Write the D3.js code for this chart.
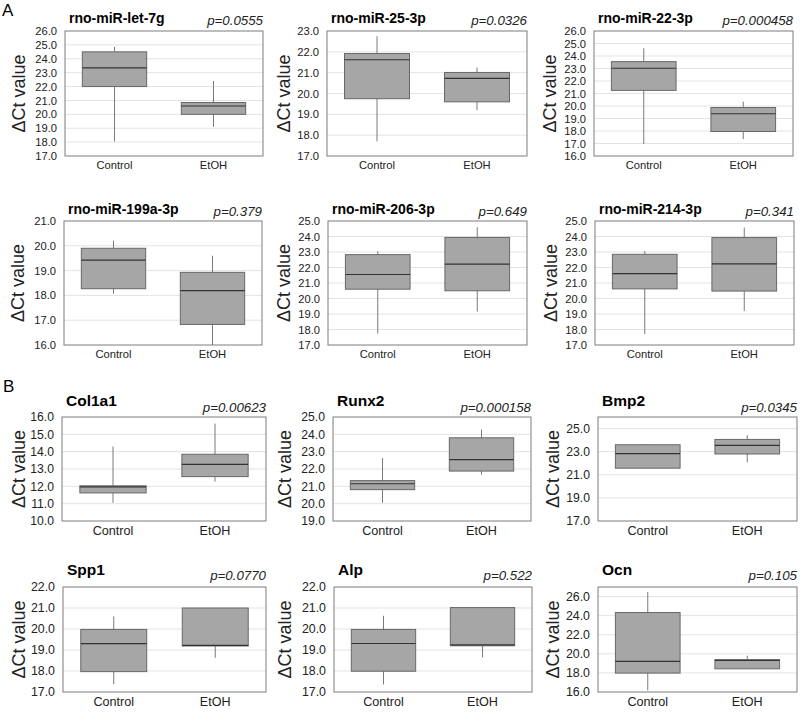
<!DOCTYPE html>
<html>
<head>
<meta charset="utf-8">
<script src="https://cdn.jsdelivr.net/npm/d3@7"></script>
<style>
  body { margin: 0; background: #fff; }
  svg { display: block; font-family: "Liberation Sans", Arial, Helvetica, sans-serif; }
</style>
</head>
<body>
<svg id="chart" width="800" height="714"></svg>
<script>
// panel names and p-values, left to right, top to bottom
const panelTitles = ["rno-miR-let-7g", "rno-miR-25-3p", "rno-miR-22-3p",
                     "rno-miR-199a-3p", "rno-miR-206-3p", "rno-miR-214-3p",
                     "Col1a1", "Runx2", "Bmp2",
                     "Spp1", "Alp", "Ocn"]
const pValues = ["p=0.0555", "p=0.0326", "p=0.000458",
                 "p=0.379", "p=0.649", "p=0.341",
                 "p=0.00623", "p=0.000158", "p=0.0345",
                 "p=0.0770", "p=0.522", "p=0.105"]
const groups = ["Control", "EtOH"]

// y axis range and tick step per panel
const yMin = [17, 17, 16, 16, 17, 17, 10, 19, 17, 17, 17, 16]
const yMax = [26, 23, 26, 21, 25, 25, 16, 25, 26, 22, 22, 27]
const yStep = [1, 1, 1, 1, 1, 1, 1, 1, 2, 1, 1, 2]

// box stats: [min, q1, median, q3, max]
const controlStats = [
    [18.05, 22.0, 23.35, 24.5, 24.85],
    [17.7, 19.75, 21.62, 21.92, 22.75],
    [16.95, 21.25, 23.02, 23.55, 24.62],
    [18.07, 18.27, 19.42, 19.9, 20.2],
    [17.73, 20.6, 21.55, 22.83, 23.05],
    [17.71, 20.62, 21.6, 22.85, 23.05],
    [11.05, 11.62, 11.97, 12.03, 14.3],
    [20.05, 20.81, 21.15, 21.33, 22.63],
    [21.57, 21.57, 22.83, 23.6, 23.63],
    [17.37, 17.97, 19.3, 19.98, 20.6],
    [17.36, 17.99, 19.31, 19.98, 20.63],
    [16.17, 17.98, 19.2, 24.33, 26.49]
]
const etohStats = [
    [19.1, 20.0, 20.6, 20.85, 22.4],
    [19.2, 19.6, 20.73, 21.01, 21.25],
    [17.35, 17.96, 19.38, 19.88, 20.35],
    [16.0, 16.83, 18.19, 18.93, 19.6],
    [19.16, 20.5, 22.22, 23.94, 24.6],
    [19.2, 20.48, 22.24, 23.93, 24.58],
    [12.27, 12.56, 13.27, 13.85, 15.62],
    [21.67, 21.88, 22.54, 23.8, 24.27],
    [22.08, 22.8, 23.55, 24.06, 24.43],
    [18.63, 19.19, 19.22, 21.0, 21.0],
    [18.65, 19.2, 19.24, 21.02, 21.02],
    [18.43, 18.43, 19.3, 19.4, 19.8]
]

// layout per row / column of the grid
const rowTop = [31, 221, 417, 587]
const rowBottom = [156, 345, 521, 692]
const titleBase = [23, 214, 406, 575]
const pBase = [25, 216, 412, 580]
const tickFont = [11.2, 11.2, 12.2, 12.4]
const xFont = [11.2, 11.2, 12.6, 12.6]
const titleFont = [14, 14, 15.5, 15.5]
const colLeft = [[65, 327, 594], [64, 328, 595], [62, 333, 598], [63, 334, 598]]
const colRight = [[263, 527, 793], [262, 527, 794], [266, 531, 797], [266, 532, 797]]
const ylabelX = [[25, 290, 556], [24, 290, 557], [25, 291, 559], [25, 291, 559]]

const svg = d3.select("#chart")

// panel letters
svg.append("text").attr("x", 2).attr("y", 16).attr("font-size", 17).text("A")
svg.append("text").attr("x", 3).attr("y", 392).attr("font-size", 17).text("B")

panelTitles.forEach(function (title, i) {
    const r = Math.floor(i / 3)
    const c = i % 3
    const left = colLeft[r][c]
    const w = colRight[r][c] - left
    const top = rowTop[r]
    const h = rowBottom[r] - top

    const g = svg.append("g").attr("transform", `translate(${left},${top})`)

    const y = d3.scaleLinear().domain([yMin[i], yMax[i]]).range([h, 0])
    const x = d3.scaleBand().domain(groups).range([0, w])
        .paddingInner(0.35).paddingOuter(0.175)

    const ticks = d3.range(yMin[i], yMax[i] + 0.001, yStep[i])

    // gridlines
    g.selectAll(".grid").data(ticks.filter(t => t > yMin[i] && t < yMax[i]))
        .join("line")
        .attr("x1", 0).attr("x2", w)
        .attr("y1", d => y(d)).attr("y2", d => y(d))
        .attr("stroke", "#e3e3e3").attr("stroke-width", 1)

    // y axis labels
    const yAxis = g.append("g")
        .call(d3.axisLeft(y).tickValues(ticks).tickFormat(d3.format(".1f")).tickSize(0).tickPadding(8))
    yAxis.select(".domain").remove()
    yAxis.selectAll("text")
        .attr("font-size", tickFont[r])
        .attr("font-family", "Liberation Sans, Arial, sans-serif")
        .attr("fill", "#222")

    // x axis labels
    const xAxis = g.append("g").attr("transform", `translate(0,${h})`)
        .call(d3.axisBottom(x).tickSize(0).tickPadding(5))
    xAxis.select(".domain").remove()
    xAxis.selectAll("text")
        .attr("font-size", xFont[r])
        .attr("font-family", "Liberation Sans, Arial, sans-serif")
        .attr("fill", "#222")

    // boxes
    const stats = [controlStats[i], etohStats[i]]
    groups.forEach(function (grp, k) {
        const s = stats[k]
        const cx = x(grp) + x.bandwidth() / 2
        g.append("line")
            .attr("x1", cx).attr("x2", cx)
            .attr("y1", y(s[0])).attr("y2", y(s[4]))
            .attr("stroke", "#7a7a7a").attr("stroke-width", 1)
        g.append("rect")
            .attr("x", x(grp)).attr("width", x.bandwidth())
            .attr("y", y(s[3])).attr("height", y(s[1]) - y(s[3]))
            .attr("fill", "#a6a6a6").attr("stroke", "#686868").attr("stroke-width", 1)
        g.append("line")
            .attr("x1", x(grp)).attr("x2", x(grp) + x.bandwidth())
            .attr("y1", y(s[2])).attr("y2", y(s[2]))
            .attr("stroke", "#333").attr("stroke-width", 1.2)
    })

    // frame
    g.append("rect").attr("width", w).attr("height", h)
        .attr("fill", "none").attr("stroke", "#7d7d7d").attr("stroke-width", 1)

    // title and p-value
    svg.append("text")
        .attr("x", left + 4).attr("y", titleBase[r])
        .attr("font-size", titleFont[r]).attr("font-weight", "bold")
        .text(title)
    svg.append("text")
        .attr("x", left + w).attr("y", pBase[r])
        .attr("text-anchor", "end")
        .attr("font-size", 13.3).attr("font-style", "italic").attr("fill", "#222")
        .text(pValues[i])

    // y label
    svg.append("text")
        .attr("transform", `translate(${ylabelX[r][c]},${top + h / 2}) rotate(-90)`)
        .attr("text-anchor", "middle")
        .attr("font-size", 18).attr("fill", "#222")
        .text("\u0394Ct value")
})
</script>
</body>
</html>
